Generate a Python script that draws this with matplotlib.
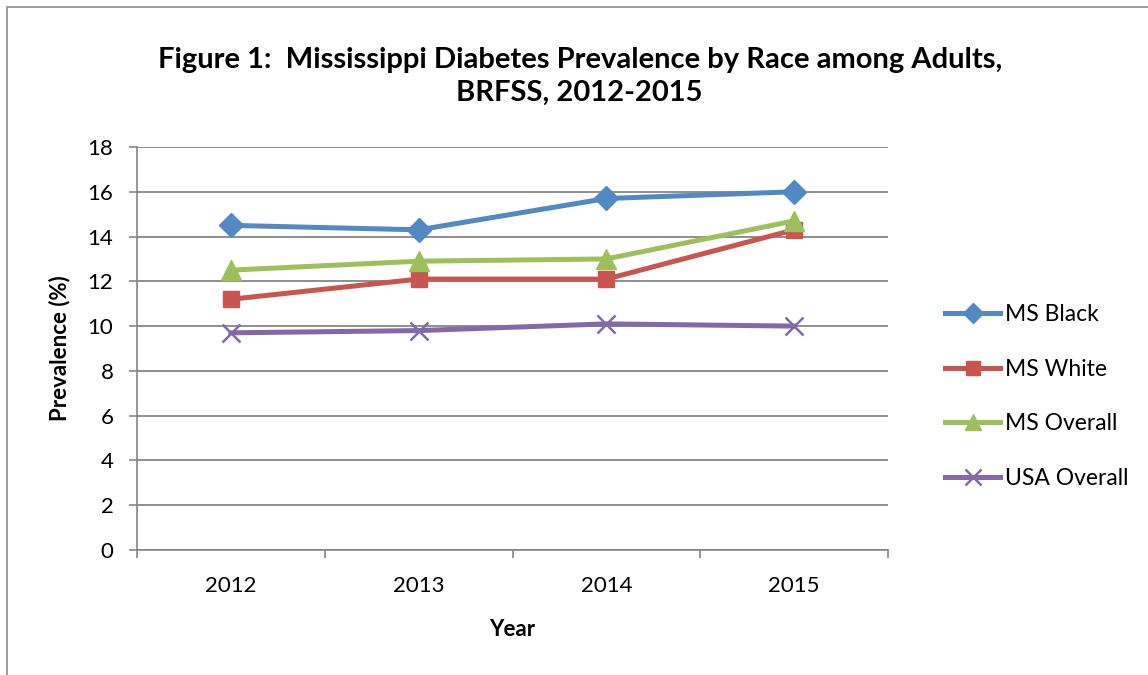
import matplotlib.pyplot as plt
from matplotlib.patches import Rectangle

years = ['2012', '2013', '2014', '2015']
ms_black = [14.5, 14.3, 15.7, 16.0]
ms_white = [11.2, 12.1, 12.1, 14.3]
ms_overall = [12.5, 12.9, 13.0, 14.7]
usa_overall = [9.7, 9.8, 10.1, 10.0]

plt.rcParams['font.family'] = ['Lato', 'DejaVu Sans']

fig = plt.figure(figsize=(11.48, 6.75), dpi=100)
ax = fig.add_axes([137/1148, 125/675, 751/1148, 403/675])

# outer chart border
fig.patches.append(Rectangle((7/1148, -0.1), 1.2, (668/675) + 0.1, transform=fig.transFigure,
                             fill=False, edgecolor='#8c8c8c', linewidth=1.2))

x = range(len(years))
ax.plot(x, ms_black, color='#5289C4', lw=3.6, marker='D', ms=12, label='MS Black')
ax.plot(x, ms_white, color='#C8554F', lw=3.6, marker='s', ms=12, label='MS White')
ax.plot(x, ms_overall, color='#9DC05C', lw=3.6, marker='^', ms=14, label='MS Overall')
ax.plot(x, usa_overall, color='#8468A8', lw=3.6, marker='x', ms=13, mew=1.8, label='USA Overall')

ax.set_xlim(-0.5, 3.5)
ax.set_ylim(0, 18)
ax.set_yticks(range(0, 19, 2))
ax.set_xticks(x)
ax.set_xticklabels(years)
ax.set_xticks([-0.5, 0.5, 1.5, 2.5, 3.5], minor=True)
ax.tick_params(axis='x', which='major', length=0, pad=19, labelsize=16)
ax.tick_params(axis='x', which='minor', length=6, color='#868686', width=1.2)
ax.tick_params(axis='y', length=6, color='#868686', width=1.2, labelsize=16, pad=11)
ax.grid(axis='y', color='#868686', lw=1.3)
ax.set_axisbelow(True)
for s in ['top', 'right']:
    ax.spines[s].set_visible(False)
for s in ['left', 'bottom']:
    ax.spines[s].set_color('#868686')
    ax.spines[s].set_linewidth(1.2)

ax.set_ylabel('Prevalence (%)', fontsize=16, fontweight='bold', labelpad=12)
ax.set_xlabel('Year', fontsize=16, fontweight='bold', labelpad=16)

fig.text(0.505, 0.887, 'Figure 1:  Mississippi Diabetes Prevalence by Race among Adults,\nBRFSS, 2012-2015',
         ha='center', va='center', fontsize=21, fontweight='bold', linespacing=1.3)

fig.legend(handles=ax.get_lines(), loc='center left', bbox_to_anchor=(934/1148, 0.4126),
           frameon=False, fontsize=16.5, borderpad=0, markerscale=0.85,
           handlelength=2.4, handletextpad=0.2, labelspacing=1.47)

fig.savefig('out.png', dpi=100)
